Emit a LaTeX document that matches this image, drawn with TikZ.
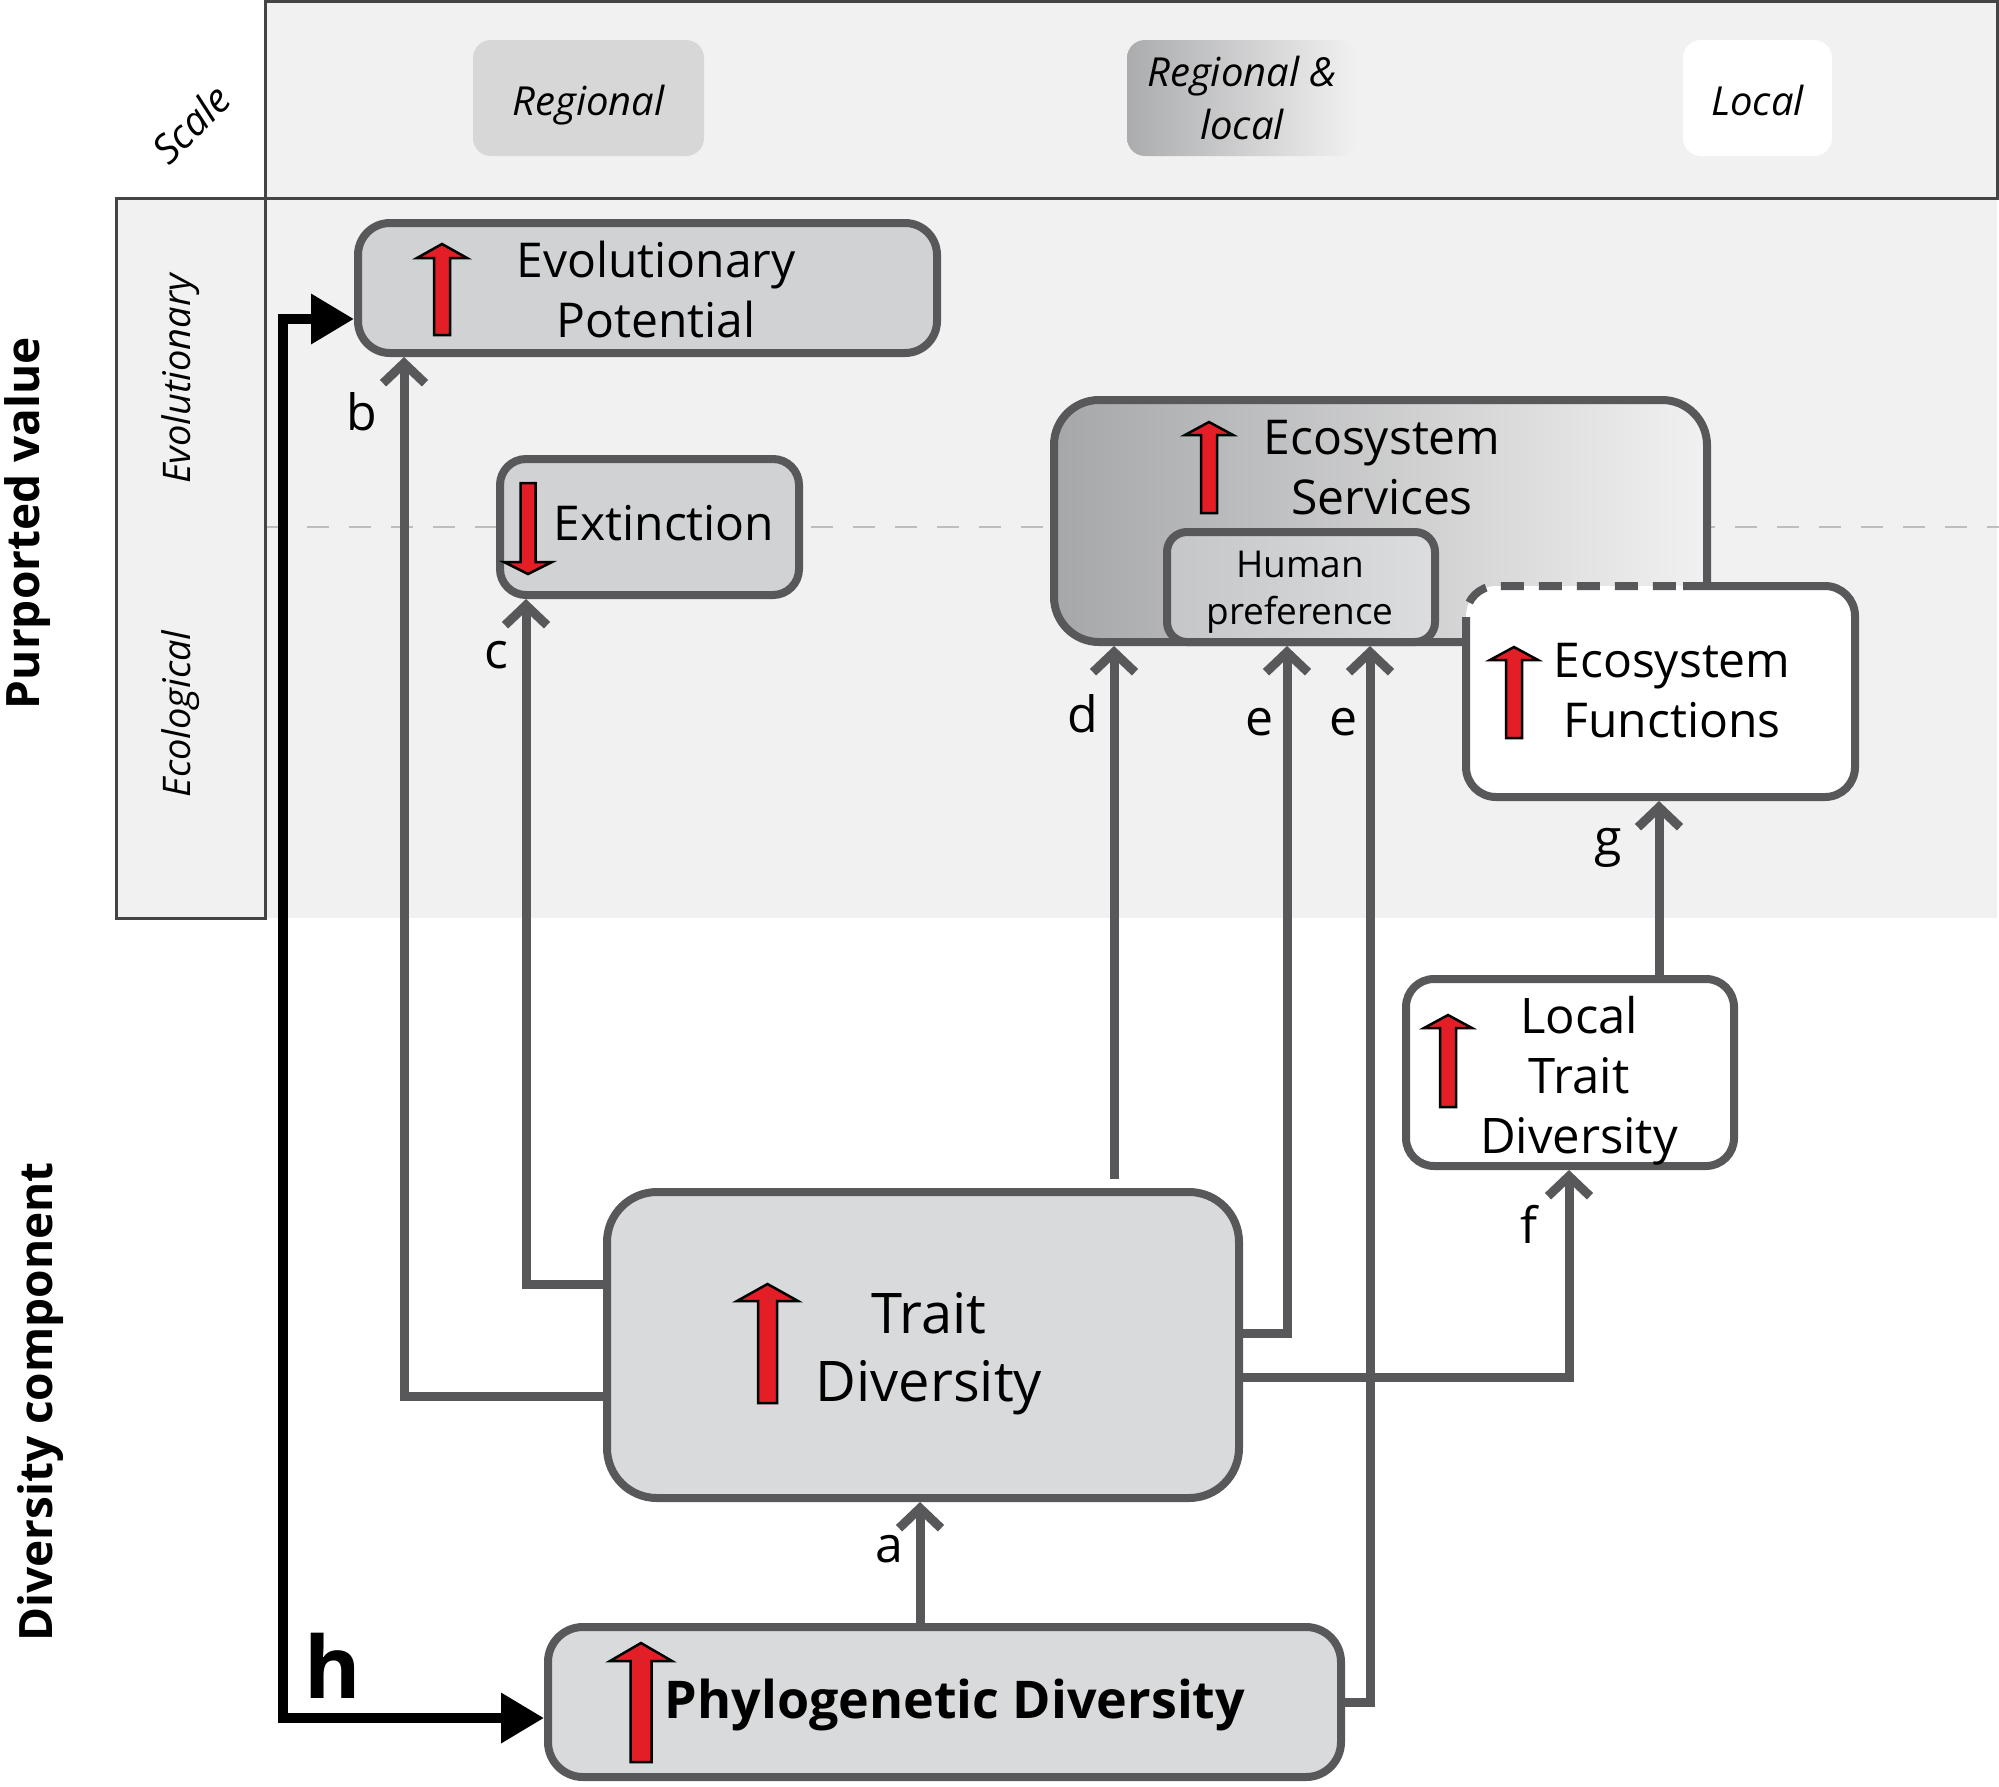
\documentclass[tikz,border=0pt]{standalone}
\usepackage{fontspec}
\setmainfont{Open Sans}
\usetikzlibrary{arrows.meta}
\definecolor{bg}{HTML}{F1F1F1}
\definecolor{frame}{HTML}{444446}
\definecolor{edge}{HTML}{58585A}
\definecolor{boxA}{HTML}{D1D2D4}
\definecolor{boxB}{HTML}{D9DADC}
\definecolor{regfill}{HTML}{D7D7D8}
\definecolor{esleft}{HTML}{A6A7A9}
\definecolor{hpleft}{HTML}{C5C6C8}
\definecolor{hpright}{HTML}{DCDDDF}
\definecolor{rlleft}{HTML}{ABACAE}
\definecolor{redfill}{HTML}{E31E26}
\definecolor{dashgray}{HTML}{BDBDBD}
\tikzset{
  box/.style={draw=edge, line width=8pt, rounded corners=#1, inner sep=0pt},
  box/.default=30pt,
  scalebox/.style={rounded corners=18pt, inner sep=0pt, minimum height=116pt, align=center,
     font=\itshape\fontsize{40}{53}\selectfont},
  conn/.style={draw=edge, line width=9pt, -{Straight Barb[length=20pt,width=42pt]}},
  hconn/.style={draw=black, line width=10pt, {Triangle[length=43pt,width=48pt]}-{Triangle[length=43pt,width=48pt]}},
  lbl/.style={font=\fontsize{50}{60}\selectfont, anchor=base, inner sep=0pt},
  boxtext/.style={font=\fontsize{48}{60}\selectfont, align=center, inner sep=0pt},
  sidelbl/.style={font=\itshape\fontsize{38}{46}\selectfont, rotate=90, inner sep=0pt},
  axislbl/.style={font=\bfseries\fontsize{46}{56}\selectfont, rotate=90, inner sep=0pt},
}
% x, ytip, ybottom, head half width, shaft half width, head length (signed)
\newcommand{\redarr}[6]{%
  \filldraw[fill=redfill, draw=black, line width=2.5pt, line join=miter]
  (#1-#5,#3) -- (#1-#5,#2+#6) -- (#1-#4,#2+#6) -- (#1,#2) -- (#1+#4,#2+#6)
  -- (#1+#5,#2+#6) -- (#1+#5,#3) -- cycle;}
\begin{document}
\begin{tikzpicture}[x=1pt,y=-1pt]
\useasboundingbox (0,0) rectangle (1999,1786);
\fill[white] (0,0) rectangle (1999,1786);
% background bands
\fill[bg] (265,0) rectangle (1997,918);
\fill[bg] (116,198) rectangle (265,918);
\draw[dashgray, line width=2pt, dash pattern=on 22pt off 20pt] (265,527) -- (1999,527);
\draw[frame, line width=3pt] (116,198) -- (1997,198) -- (1997,1.5) -- (265,1.5) -- (265,918) -- (116,918) -- cycle;
% axis labels
\node[font=\itshape\fontsize{40}{48}\selectfont, rotate=45, inner sep=0pt] (scalelbl) at (191,124) {Scale};
\node[sidelbl] (evolbl) at (181,379) {Evolutionary};
\node[sidelbl] (ecolbl) at (181,714) {Ecological};
\node[axislbl] (pvlbl) at (28,523) {Purported value};
\node[axislbl] (dclbl) at (41,1402) {Diversity component};
% scale boxes
\node[scalebox, fill=regfill, minimum width=231pt, text height=34pt, text depth=0pt] (reg) at (588.5,98) {Regional};
\node[scalebox, left color=rlleft, right color=bg, minimum width=230pt] (regloc) at (1242,98) {Regional \&\\local};
\node[scalebox, fill=white, minimum width=149pt, text height=34pt, text depth=0pt] (loc) at (1757.5,98) {Local};
% boxes
\node[box=32pt, fill=boxA, minimum width=579pt, minimum height=130pt] (ep) at (647.5,288) {};
\node[box=26pt, fill=boxA, minimum width=299pt, minimum height=136pt] (ext) at (649.5,527) {};
\node[box=45pt, left color=esleft, right color=bg, minimum width=653pt, minimum height=242pt] (es) at (1380.5,521) {};
\node[box=20pt, left color=hpleft, right color=hpright, minimum width=268pt, minimum height=110pt] (hp) at (1301,587) {};
\node[fill=white, rounded corners=30pt, inner sep=0pt, outer sep=0pt, minimum width=389pt, minimum height=211pt] (ef) at (1660.5,691.5) {};
\draw[edge, line width=8pt, rounded corners=30pt] ([xshift=22.5pt]ef.north) -- (ef.north east) -- (ef.south east) -- (ef.south west) -- ([yshift=51.5pt]ef.west);
\draw[edge, line width=8pt, rounded corners=30pt, dash pattern=on 23pt off 15pt] ([yshift=51.5pt]ef.west) -- (ef.north west) -- ([xshift=22.5pt]ef.north);
\node[box=28pt, fill=white, minimum width=328pt, minimum height=187pt] (ltd) at (1570,1072.5) {};
\node[box=50pt, fill=boxB, minimum width=632pt, minimum height=306pt] (trait) at (923,1345) {};
\node[box=35pt, fill=boxB, minimum width=793pt, minimum height=150pt] (phylo) at (944.5,1702) {};
% box texts
\node[boxtext] (eptxt) at (656,289) {Evolutionary\\Potential};
\node[boxtext, anchor=base] (exttxt) at (664,540) {Extinction};
\node[boxtext] (estxt) at (1382,468) {Ecosystem\\Services};
\node[boxtext, font=\fontsize{37}{47}\selectfont] (hptxt) at (1300,592) {Human\\preference};
\node[boxtext] (eftxt) at (1672,691) {Ecosystem\\Functions};
\node[boxtext, font=\fontsize{49}{60}\selectfont] (ltdtxt) at (1579,1081) {Local\\Trait\\Diversity};
\node[boxtext, font=\fontsize{56}{68}\selectfont] (traittxt) at (929,1354) {Trait\\Diversity};
\node[boxtext, anchor=base, font=\bfseries\fontsize{52}{60}\selectfont] (phylotxt) at (955,1718) {Phylogenetic Diversity};
% red arrows
\redarr{442}{244}{335}{25}{8}{14}
\redarr{528}{574}{483}{24}{7.5}{-12}
\redarr{1209}{422}{513}{24}{8}{13}
\redarr{1514}{647}{738}{24}{8}{13}
\redarr{1448}{1015}{1107}{24}{8}{13}
\redarr{767.5}{1284}{1403}{30.5}{9.5}{17}
\redarr{641}{1643}{1762}{31}{10.5}{18}
% connectors
\draw[conn] ([xshift=-24.5pt]phylo.north) -- ([xshift=-3pt]trait.south);
\draw[conn] ([yshift=-51pt]trait.west) -| ([xshift=-243.5pt]ep.south);
\draw[conn] ([yshift=61pt]trait.west) -| ([xshift=-123.5pt]ext.south);
\draw[conn] ([xshift=191pt,yshift=9pt]trait.north) -- ([xshift=-266.5pt]es.south);
\draw[conn] ([yshift=12pt]trait.east) -| ([xshift=-14pt]hp.south);
\draw[conn] (phylo.east) -| ([xshift=69pt]hp.south);
\draw[conn] ([yshift=-32pt]trait.east) -| ([xshift=-1pt]ltd.south);
\draw[conn] ([xshift=89pt]ltd.north) -- ([xshift=-1.5pt,yshift=-4pt]ef.south);
\coordinate (htop) at (283,319);
\coordinate (hbot) at (283,1718);
\draw[hconn] (ep.west |- htop) -- (htop) -- (hbot) -- (phylo.west |- hbot);
% connector labels
\node[lbl] (la) at (889,1562) {a};
\node[lbl] (lb) at (362,430) {b};
\node[lbl] (lc) at (496,668) {c};
\node[lbl] (ld) at (1083,732) {d};
\node[lbl] (le1) at (1260,735) {e};
\node[lbl] (le2) at (1344,735) {e};
\node[lbl] (lf) at (1529,1243) {f};
\node[lbl] (lg) at (1608,855) {g};
\node[lbl, font=\bfseries\fontsize{86}{90}\selectfont] (lh) at (333,1698) {h};
\end{tikzpicture}
\end{document}
